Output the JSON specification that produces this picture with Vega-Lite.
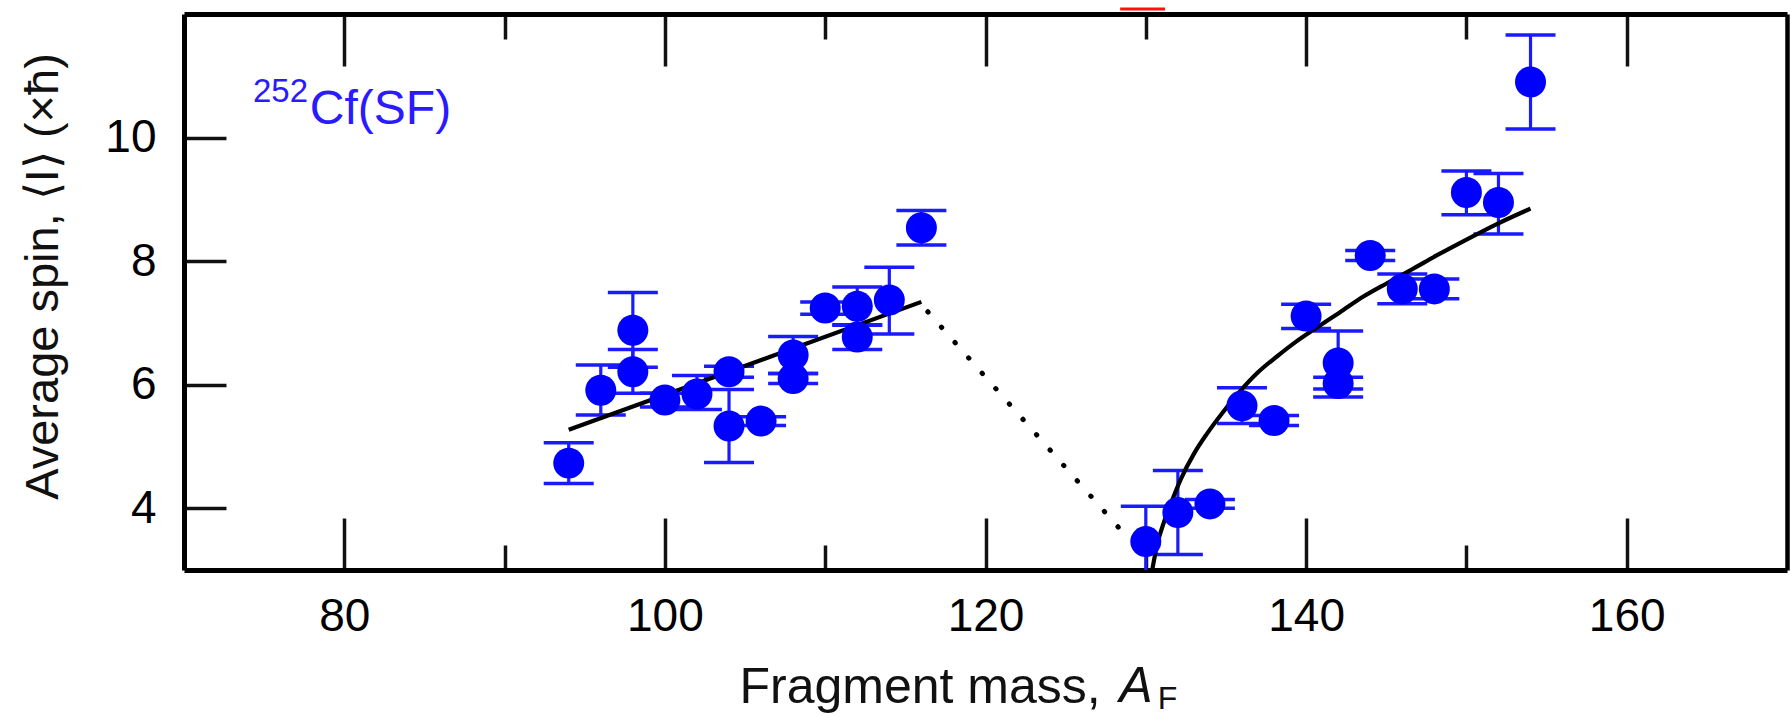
{
  "$schema": "https://vega.github.io/schema/vega-lite/v6.json",
  "autosize": {"type": "none"},
  "padding": {"left": 184, "top": 14, "right": 4, "bottom": 147},
  "width": 1603,
  "height": 556,
  "background": "white",
  "config": {"view": {"stroke": null}, "font": "Liberation Sans"},
  "datasets": {
    "pts": [
      {"A": 94, "spin": 4.73, "lo": 4.40, "hi": 5.06},
      {"A": 96, "spin": 5.91, "lo": 5.51, "hi": 6.32},
      {"A": 98, "spin": 6.88, "lo": 6.28, "hi": 7.49},
      {"A": 98, "spin": 6.21, "lo": 5.86, "hi": 6.57},
      {"A": 100, "spin": 5.75, "lo": 5.64, "hi": 5.86},
      {"A": 102, "spin": 5.85, "lo": 5.60, "hi": 6.15},
      {"A": 104, "spin": 6.21, "lo": 6.12, "hi": 6.30},
      {"A": 104, "spin": 5.33, "lo": 4.74, "hi": 5.92},
      {"A": 106, "spin": 5.41, "lo": 5.34, "hi": 5.48},
      {"A": 108, "spin": 6.48, "lo": 6.18, "hi": 6.78},
      {"A": 108, "spin": 6.10, "lo": 6.02, "hi": 6.18},
      {"A": 110, "spin": 7.24, "lo": 7.14, "hi": 7.34},
      {"A": 112, "spin": 7.27, "lo": 6.96, "hi": 7.58},
      {"A": 112, "spin": 6.77, "lo": 6.57, "hi": 6.97},
      {"A": 114, "spin": 7.37, "lo": 6.82, "hi": 7.90},
      {"A": 116, "spin": 8.54, "lo": 8.26, "hi": 8.82},
      {"A": 130, "spin": 3.46, "lo": 2.90, "hi": 4.03},
      {"A": 132, "spin": 3.93, "lo": 3.25, "hi": 4.61},
      {"A": 134, "spin": 4.07, "lo": 4.00, "hi": 4.14},
      {"A": 136, "spin": 5.66, "lo": 5.37, "hi": 5.95},
      {"A": 138, "spin": 5.42, "lo": 5.34, "hi": 5.50},
      {"A": 140, "spin": 7.11, "lo": 6.91, "hi": 7.30},
      {"A": 142, "spin": 6.35, "lo": 5.80, "hi": 6.87},
      {"A": 142, "spin": 6.02, "lo": 5.93, "hi": 6.12},
      {"A": 144, "spin": 8.09, "lo": 8.01, "hi": 8.17},
      {"A": 146, "spin": 7.55, "lo": 7.31, "hi": 7.79},
      {"A": 148, "spin": 7.55, "lo": 7.39, "hi": 7.71},
      {"A": 150, "spin": 9.11, "lo": 8.75, "hi": 9.46},
      {"A": 152, "spin": 8.95, "lo": 8.44, "hi": 9.42},
      {"A": 154, "spin": 10.90, "lo": 10.14, "hi": 11.66}
    ],
    "fitLeft": [
      {"A": 94.0, "spin": 5.27},
      {"A": 116.0, "spin": 7.34}
    ],
    "dots": [
      {"A": 116.4, "spin": 7.18},
      {"A": 128.6, "spin": 3.6}
    ],
    "fitRight": [
      {"A": 130.4, "spin": 3.0},
      {"A": 130.7, "spin": 3.4},
      {"A": 131.1, "spin": 3.75},
      {"A": 131.6, "spin": 4.1},
      {"A": 132.2, "spin": 4.48},
      {"A": 133.0, "spin": 4.88},
      {"A": 133.8, "spin": 5.2},
      {"A": 134.8, "spin": 5.55},
      {"A": 135.9, "spin": 5.9},
      {"A": 137.0, "spin": 6.2},
      {"A": 138.2, "spin": 6.46},
      {"A": 139.4, "spin": 6.7},
      {"A": 140.7, "spin": 6.93},
      {"A": 142.1, "spin": 7.17},
      {"A": 143.6, "spin": 7.43},
      {"A": 145.1, "spin": 7.65},
      {"A": 146.7, "spin": 7.88},
      {"A": 148.2, "spin": 8.1},
      {"A": 149.8, "spin": 8.32},
      {"A": 151.9, "spin": 8.6},
      {"A": 154.0, "spin": 8.85}
    ],
    "redmark": [
      {"A": 128.4, "A2": 131.2, "spin": 12.08}
    ]
  },
  "resolve": {"axis": {"x": "independent", "y": "independent"}},
  "layer": [
    {
      "data": {"name": "pts"},
      "mark": {"type": "rule", "color": "#1a1aff", "opacity": 1, "strokeWidth": 3.2, "clip": true},
      "encoding": {
        "x": {
          "field": "A", "type": "quantitative",
          "scale": {"domain": [70, 170], "nice": false, "zero": false},
          "axis": {
            "orient": "top", "values": [80, 90, 100, 110, 120, 130, 140, 150, 160],
            "labels": false, "title": null, "grid": false,
            "tickSize": {"condition": {"test": "datum.value % 20 === 0", "value": -52}, "value": -25},
            "tickWidth": 3.5, "tickColor": "#111111",
            "domainColor": "#000000", "domainWidth": 5
          }
        },
        "y": {
          "field": "lo", "type": "quantitative",
          "scale": {"domain": [3, 12], "nice": false, "zero": false},
          "axis": {
            "orient": "right", "ticks": false, "labels": false, "title": null, "grid": false,
            "domainColor": "#000000", "domainWidth": 4.5
          }
        },
        "y2": {"field": "hi"}
      }
    },
    {
      "data": {"name": "pts"},
      "mark": {"type": "tick", "orient": "horizontal", "color": "#1a1aff", "opacity": 1, "size": 50, "thickness": 3.5, "clip": true},
      "encoding": {
        "x": {"field": "A", "type": "quantitative", "axis": null},
        "y": {"field": "lo", "type": "quantitative", "axis": null}
      }
    },
    {
      "data": {"name": "pts"},
      "mark": {"type": "tick", "orient": "horizontal", "color": "#1a1aff", "opacity": 1, "size": 50, "thickness": 3.5, "clip": true},
      "encoding": {
        "x": {"field": "A", "type": "quantitative", "axis": null},
        "y": {"field": "hi", "type": "quantitative", "axis": null}
      }
    },
    {
      "data": {"name": "fitLeft"},
      "mark": {"type": "line", "color": "#000000", "strokeWidth": 4.2},
      "encoding": {
        "x": {"field": "A", "type": "quantitative", "axis": null},
        "y": {"field": "spin", "type": "quantitative", "axis": null}
      }
    },
    {
      "data": {"name": "dots"},
      "mark": {"type": "line", "color": "#000000", "strokeWidth": 5, "strokeCap": "round", "strokeDash": [0.5, 20]},
      "encoding": {
        "x": {"field": "A", "type": "quantitative", "axis": null},
        "y": {"field": "spin", "type": "quantitative", "axis": null}
      }
    },
    {
      "data": {"name": "fitRight"},
      "mark": {"type": "line", "color": "#000000", "strokeWidth": 4.2, "interpolate": "monotone", "clip": true},
      "encoding": {
        "x": {"field": "A", "type": "quantitative", "axis": null},
        "y": {"field": "spin", "type": "quantitative", "axis": null}
      }
    },
    {
      "data": {"name": "pts"},
      "mark": {"type": "circle", "color": "#0000ff", "opacity": 1, "size": 960},
      "encoding": {
        "x": {
          "field": "A", "type": "quantitative",
          "axis": {
            "orient": "bottom", "values": [80, 90, 100, 110, 120, 130, 140, 150, 160],
            "format": "d",
            "labelExpr": "datum.value % 20 === 0 ? datum.label : ''",
            "tickSize": {"condition": {"test": "datum.value % 20 === 0", "value": -52}, "value": -25},
            "tickWidth": 3.5, "tickColor": "#111111",
            "domainColor": "#000000", "domainWidth": 5,
            "grid": false,
            "labelFont": "Liberation Sans", "labelFontSize": 46, "labelColor": "#000000",
            "labelPadding": 76,
            "title": "Fragment mass,",
            "titleFont": "Liberation Sans", "titleFontSize": 50, "titleFontWeight": "normal",
            "titleColor": "#111111",
            "titleAlign": "left", "titleBaseline": "alphabetic",
            "titleX": 555, "titleY": 132
          }
        },
        "y": {
          "field": "spin", "type": "quantitative",
          "axis": {
            "orient": "left", "values": [4, 6, 8, 10],
            "tickSize": -42, "tickWidth": 3.5, "tickColor": "#111111",
            "domainColor": "#000000", "domainWidth": 5,
            "grid": false,
            "labelFont": "Liberation Sans", "labelFontSize": 46, "labelColor": "#000000",
            "labelPadding": 70,
            "title": "Average spin, ⟨I⟩ (×ħ)",
            "titleFont": "Liberation Sans", "titleFontSize": 47, "titleFontWeight": "normal",
            "titleColor": "#111111",
            "titleAngle": 270, "titleAlign": "center", "titleBaseline": "alphabetic",
            "titleX": -127, "titleY": 262
          }
        }
      }
    },
    {
      "data": {"name": "redmark"},
      "mark": {"type": "rule", "color": "#ff1010", "strokeWidth": 3},
      "encoding": {
        "x": {"field": "A", "type": "quantitative", "axis": null},
        "x2": {"field": "A2"},
        "y": {"field": "spin", "type": "quantitative", "axis": null}
      }
    },
    {
      "data": {"values": [{}]},
      "mark": {"type": "text", "text": "252", "font": "Liberation Sans", "fontSize": 33, "color": "#2a1aff", "align": "left", "baseline": "alphabetic"},
      "encoding": {
        "x": {"datum": 74.3, "type": "quantitative", "axis": null},
        "y": {"datum": 10.57, "type": "quantitative", "axis": null}
      }
    },
    {
      "data": {"values": [{}]},
      "mark": {"type": "text", "text": "Cf(SF)", "font": "Liberation Sans", "fontSize": 48, "color": "#2a1aff", "align": "left", "baseline": "alphabetic"},
      "encoding": {
        "x": {"datum": 77.85, "type": "quantitative", "axis": null},
        "y": {"datum": 10.22, "type": "quantitative", "axis": null}
      }
    },
    {
      "data": {"values": [{}]},
      "mark": {"type": "text", "text": "A", "font": "Liberation Sans", "fontSize": 50, "fontStyle": "italic", "color": "#111111", "align": "left", "baseline": "alphabetic"},
      "encoding": {
        "x": {"datum": 128.35, "type": "quantitative", "axis": null},
        "y": {"datum": 0.867, "type": "quantitative", "axis": null}
      }
    },
    {
      "data": {"values": [{}]},
      "mark": {"type": "text", "text": "F", "font": "Liberation Sans", "fontSize": 32, "color": "#111111", "align": "left", "baseline": "alphabetic"},
      "encoding": {
        "x": {"datum": 130.75, "type": "quantitative", "axis": null},
        "y": {"datum": 0.75, "type": "quantitative", "axis": null}
      }
    }
  ]
}
